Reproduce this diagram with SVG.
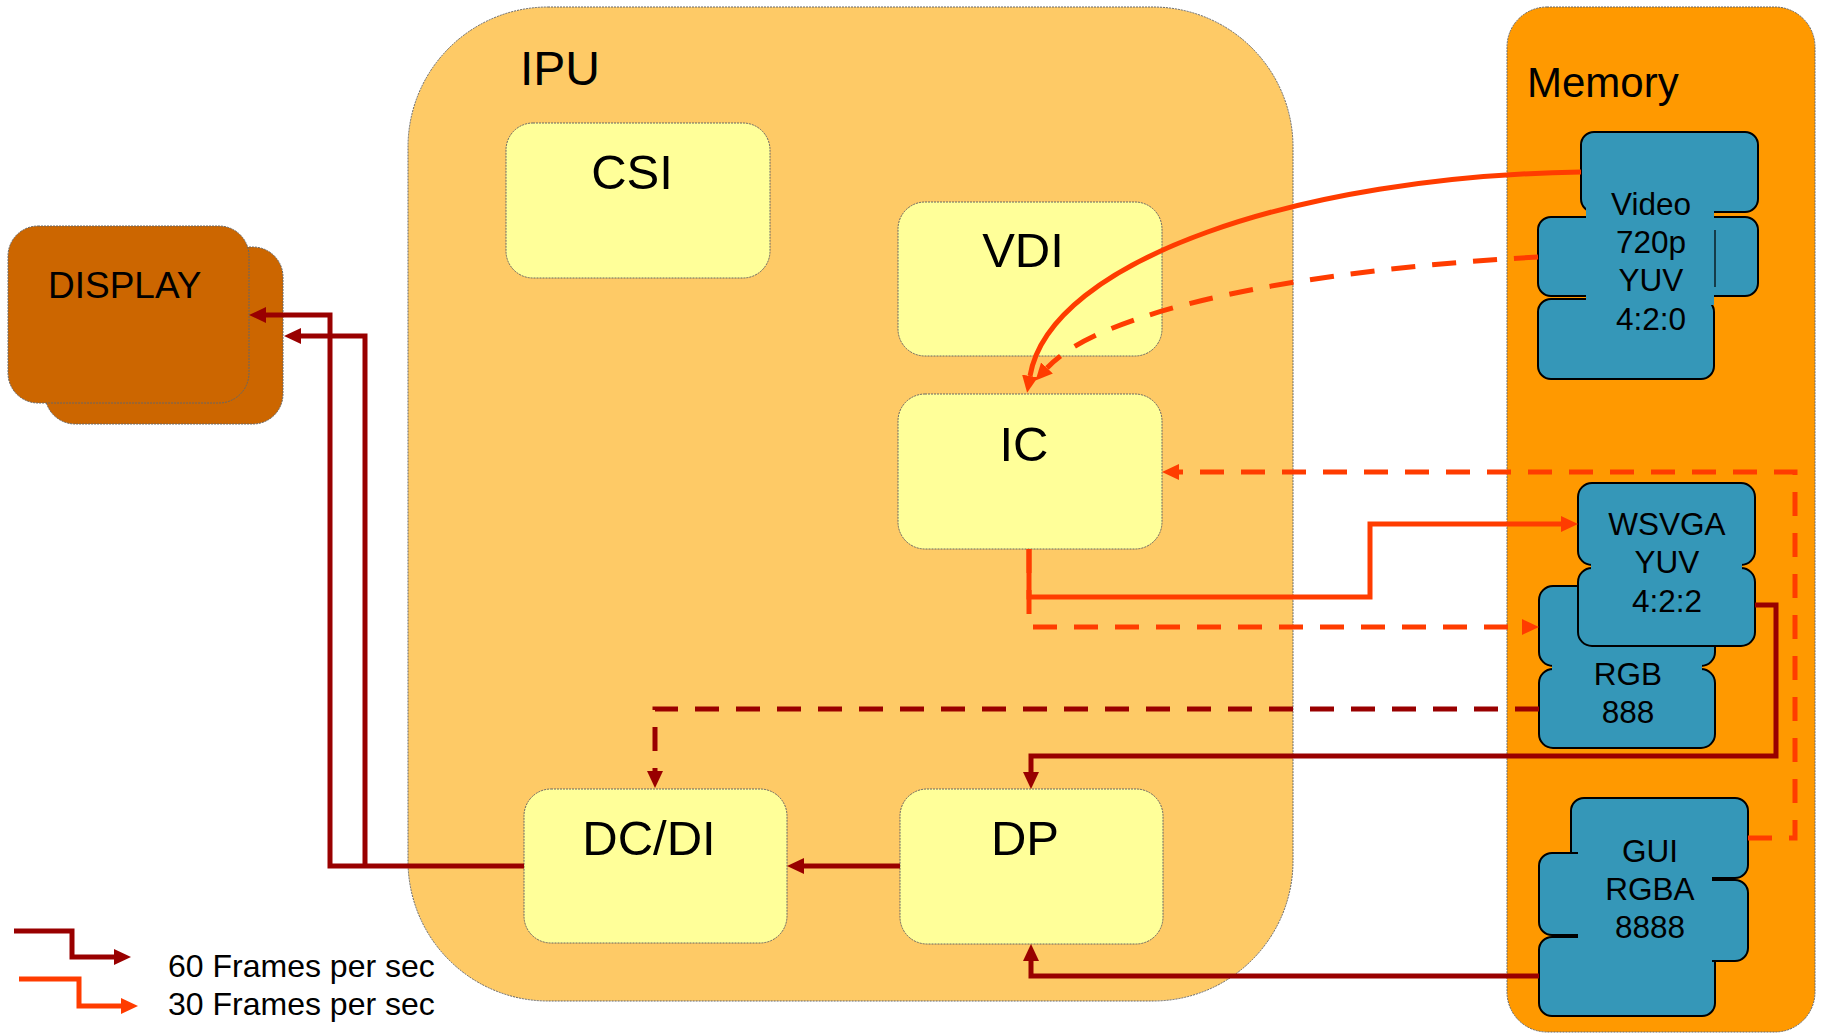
<svg xmlns="http://www.w3.org/2000/svg" width="1821" height="1034" viewBox="0 0 1821 1034">
<style>
text{font-family:"Liberation Sans",Arial,sans-serif;fill:#000}
.cont{stroke:#666;stroke-width:1;stroke-dasharray:2 1}
.blk{fill:#FFFF99;stroke:#666;stroke-width:1;stroke-dasharray:2 1}
.lbl{font-size:49px;text-anchor:middle}
.mem{fill:#3597B8;stroke:#000;stroke-width:2}
.memfill{fill:#3597B8;stroke:none}
.mt{font-size:31.5px;text-anchor:middle}
.dr{fill:none;stroke:#990000;stroke-width:5}
.or{fill:none;stroke:#FF3C00;stroke-width:5}
.dash{stroke-dasharray:24 17}
</style>
<defs>
<marker id="aDR" markerUnits="userSpaceOnUse" markerWidth="18" markerHeight="18" viewBox="0 0 18 18" refX="0" refY="9" orient="auto"><path d="M0,1 L17,9 L0,17 z" fill="#990000"/></marker>
<marker id="aOR" markerUnits="userSpaceOnUse" markerWidth="18" markerHeight="18" viewBox="0 0 18 18" refX="0" refY="9" orient="auto"><path d="M0,1 L17,9 L0,17 z" fill="#FF3C00"/></marker>
</defs>

<g id="ipu">
<rect class="cont" x="408" y="7" width="885" height="994" rx="140" fill="#FECA66"/>
<text x="520" y="85" font-size="48">IPU</text>
</g>
<g id="memory">
<rect class="cont" x="1507" y="7" width="308" height="1025" rx="40" fill="#FF9900"/>
<text x="1527" y="97" font-size="42">Memory</text>
</g>
<g id="display">
<rect class="cont" x="45" y="247" width="238" height="177" rx="30" fill="#CC6600"/>
<rect class="cont" x="8" y="226" width="241" height="177" rx="30" fill="#CC6600"/>
<text x="48" y="298" font-size="37">DISPLAY</text>
</g>
<g id="csi"><rect class="blk" x="506" y="123" width="264" height="155" rx="27"/><text class="lbl" x="632" y="189">CSI</text></g>
<g id="vdi"><rect class="blk" x="898" y="202" width="264" height="154" rx="27"/><text class="lbl" x="1023" y="267">VDI</text></g>
<g id="ic"><rect class="blk" x="898" y="394" width="264" height="155" rx="27"/><text class="lbl" x="1024" y="461">IC</text></g>
<g id="dcdi"><rect class="blk" x="524" y="789" width="263" height="154" rx="27"/><text class="lbl" x="649" y="855">DC/DI</text></g>
<g id="dp"><rect class="blk" x="900" y="789" width="263" height="155" rx="27"/><text class="lbl" x="1025" y="855">DP</text></g>

<g id="mem-video">
<rect class="mem" x="1581" y="132" width="177" height="80" rx="13"/>
<rect class="mem" x="1538" y="217" width="220" height="79" rx="13"/>
<rect class="mem" x="1538" y="299" width="176" height="80" rx="13"/>
<rect class="memfill" x="1586" y="205" width="128" height="100"/>
<line x1="1715" y1="230" x2="1715" y2="287" stroke="#000" stroke-width="1.2"/>
<text class="mt" x="1651" y="215">Video</text>
<text class="mt" x="1651" y="253">720p</text>
<text class="mt" x="1651" y="291">YUV</text>
<text class="mt" x="1651" y="330">4:2:0</text>
</g>
<g id="mem-rgb">
<rect class="mem" x="1539" y="586" width="176" height="80" rx="14"/>
<rect class="mem" x="1539" y="669" width="176" height="79" rx="14"/>
<rect class="memfill" x="1552" y="655" width="150" height="25"/>
<text class="mt" x="1628" y="685">RGB</text>
<text class="mt" x="1628" y="723">888</text>
</g>
<g id="mem-wsvga">
<rect class="mem" x="1578" y="483" width="177" height="82" rx="14"/>
<rect class="mem" x="1578" y="568" width="177" height="78" rx="14"/>
<rect class="memfill" x="1591" y="554" width="151" height="25"/>
<text class="mt" x="1667" y="535">WSVGA</text>
<text class="mt" x="1667" y="573">YUV</text>
<text class="mt" x="1667" y="612">4:2:2</text>
</g>
<g id="mem-gui">
<rect class="mem" x="1571" y="798" width="177" height="80" rx="13"/>
<rect class="mem" x="1539" y="937" width="176" height="79" rx="13"/>
<rect class="mem" x="1583" y="880" width="165" height="81" rx="13"/>
<rect class="mem" x="1539" y="853" width="165" height="82" rx="13"/>
<rect class="memfill" x="1578" y="850" width="134" height="116"/>
<text class="mt" x="1650" y="862">GUI</text>
<text class="mt" x="1650" y="900">RGBA</text>
<text class="mt" x="1650" y="938">8888</text>
</g>

<g id="connectors">
<path class="dr" d="M524,866 H330 V315 H266" marker-end="url(#aDR)"/>
<path class="dr" d="M365,866 V336 H301" marker-end="url(#aDR)"/>
<path class="dr" d="M900,866 H804" marker-end="url(#aDR)"/>
<path class="dr" d="M1755,605 H1776 V756 H1031 V772" marker-end="url(#aDR)"/>
<path class="dr" d="M1539,976 H1031 V961" marker-end="url(#aDR)"/>
<path class="dr dash" d="M1539,709 H655 V771" marker-end="url(#aDR)"/>
<path class="or" d="M1581,172 C1300,176 1050,260 1030,376" marker-end="url(#aOR)"/>
<path class="or dash" d="M1538,257 C1300,270 1100,310 1047,368" marker-end="url(#aOR)"/>
<path class="or dash" d="M1029,549 V627 H1522" marker-end="url(#aOR)"/>
<path class="or" d="M1029,549 V597 H1370 V524 H1561" marker-end="url(#aOR)"/>
<path class="or dash" d="M1748,838 H1795 V472 H1179" marker-end="url(#aOR)"/>
</g>

<g id="legend">
<path class="dr" d="M14,931 H72 V957 H114" marker-end="url(#aDR)"/>
<path class="or" d="M19,979 H79 V1006 H121" marker-end="url(#aOR)"/>
<text x="168" y="977" font-size="32">60 Frames per sec</text>
<text x="168" y="1015" font-size="32">30 Frames per sec</text>
</g>
</svg>
